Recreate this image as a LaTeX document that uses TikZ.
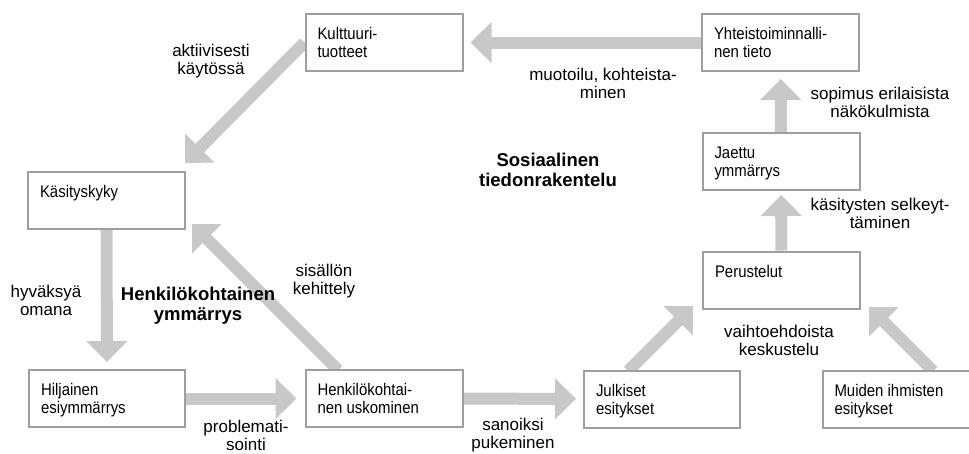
\documentclass[tikz,border=0pt]{standalone}
\usepackage{fontspec}
\setmainfont{Liberation Sans}
\newfontfamily\boxfont{Liberation Sans}[FakeStretch=0.89]
\usetikzlibrary{arrows.meta,calc}
\pgfdeclarelayer{bg}
\pgfsetlayers{bg,main}
\definecolor{boxgray}{HTML}{9E9E9E}
\definecolor{arrgray}{HTML}{C8C8C8}
\newcommand\bxt[2][157pt]{\parbox[c][57pt][t]{#1}{\vspace*{13.5pt}\boxfont\fontsize{16.8}{18}\selectfont\raggedright\leftskip=12pt #2}}
\tikzset{
  box/.style={draw=boxgray, line width=2pt, fill=white, inner sep=0pt},
  arr/.style={draw=arrgray, line width=12pt, -{Triangle[width=40pt,length=21pt]}},
  lbl/.style={align=center, font=\fontsize{17}{18}\selectfont, inner sep=0pt},
  ttl/.style={align=center, font=\bfseries\fontsize{18.5}{20}\selectfont, inner sep=0pt}
}
\begin{document}
\begin{tikzpicture}[x=1pt,y=-1pt]
\useasboundingbox (0,0) rectangle (969,453);
% boxes
\node[box] (K)   at (384,42.5)  {\bxt{Kulttuuri-\\tuotteet}};
\node[box] (Y)   at (780.5,42.5) {\bxt{Yhteistoiminnalli-\\nen tieto}};
\node[box] (Kas) at (106.5,200) {\bxt{Käsityskyky}};
\node[box] (J)   at (781,161.5) {\bxt{Jaettu\\ymmärrys}};
\node[box] (P)   at (781.5,280) {\bxt{Perustelut}};
\node[box] (H)   at (107,398.5) {\bxt[156pt]{Hiljainen\\esiymmärrys}};
\node[box] (HU)  at (384,398.5) {\bxt{Henkilökohtai-\\nen uskominen}};
\node[box] (JE)  at (662,399)   {\bxt[156pt]{Julkiset\\esitykset}};
\node[box] (M)   at (901,399)   {\bxt{Muiden ihmisten\\esitykset}};
% free arrow ends
\coordinate (t2) at (185,163);
\coordinate (s5) at (338,370);
\coordinate (t5) at (192,224);
\coordinate (s7) at (628,371);
\coordinate (t7) at (693,306);
\coordinate (s8) at (933,371);
\coordinate (t8) at (869,307);
% arrows
\begin{pgfonlayer}{bg}
\draw[arr, shorten >=7pt] (Y.west) -- (K.east);
\draw[arr] (K.west) -- (t2);
\draw[arr, shorten >=7pt] (Kas) -- (H);
\draw[arr, shorten >=8pt] (H) -- (HU);
\draw[arr] (s5) -- (t5);
\draw[arr, shorten >=7pt] (HU) -- (JE);
\draw[arr] (s7) -- (t7);
\draw[arr] (s8) -- (t8);
\draw[arr, shorten >=4pt] (P) -- (J);
\draw[arr, shorten >=7pt] (J) -- (Y);
\end{pgfonlayer}
% labels
\node[lbl] (l1) at (211,61)  {aktiivisesti\\käytössä};
\node[lbl] (l2) at (603,83)  {muotoilu, kohteista-\\minen};
\node[lbl] (l3) at (880,102) {sopimus erilaisista\\näkökulmista};
\node[ttl] (t1) at (548,170) {Sosiaalinen\\tiedonrakentelu};
\node[lbl] (l4) at (880,213) {käsitysten selkeyt-\\täminen};
\node[lbl] (l5) at (46,300)  {hyväksyä\\omana};
\node[ttl] (t2n) at (198,306) {Henkilökohtainen\\ymmärrys};
\node[lbl] (l6) at (324,281) {sisällön\\kehittely};
\node[lbl] (l7) at (246,435) {problemati-\\sointi};
\node[lbl] (l8) at (513,435) {sanoiksi\\pukeminen};
\node[lbl] (l9) at (779,340) {vaihtoehdoista\\keskustelu};
\end{tikzpicture}
\end{document}
